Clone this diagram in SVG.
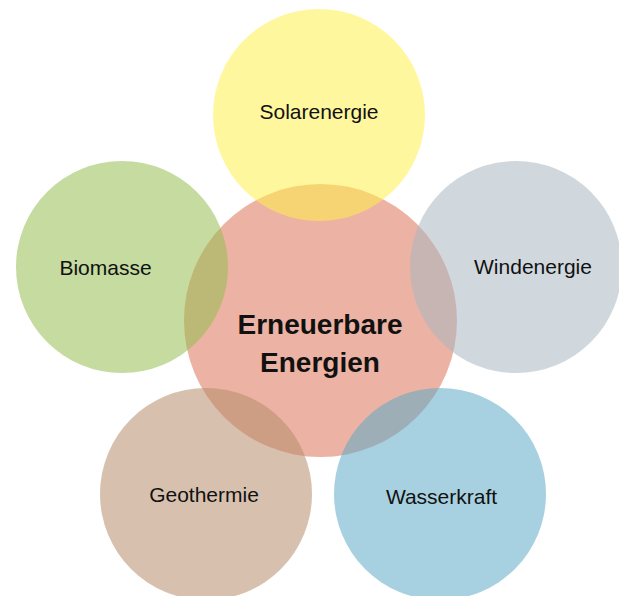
<svg xmlns="http://www.w3.org/2000/svg" width="619" height="596" viewBox="0 0 619 596">
  <style>
    .bg { fill: #ffffff; }
    .core { fill: #ecb2a3; }
    .petal { fill-opacity: 0.55; }
    .label { font-family: "Liberation Sans", "Noto Sans", sans-serif; font-size: 21px; fill: #111111; text-anchor: middle; }
    .title { font-family: "Liberation Sans", "Noto Sans", sans-serif; font-size: 28px; font-weight: bold; fill: #111111; text-anchor: middle; }
  </style>
  <rect class="bg" x="0" y="0" width="619" height="596"/>

  <!-- central topic -->
  <g id="erneuerbare-energien">
    <circle class="core" cx="320.5" cy="320.5" r="136.5"/>
  </g>

  <!-- surrounding sources, translucent so overlaps blend with the centre -->
  <g id="solarenergie">
    <circle class="petal" cx="319" cy="115" r="106" fill="#fff04f"/>
    <text class="label" x="319" y="119">Solarenergie</text>
  </g>
  <g id="windenergie">
    <circle class="petal" cx="516" cy="267" r="106" fill="#a9b8c3"/>
    <text class="label" x="533" y="274">Windenergie</text>
  </g>
  <g id="biomasse">
    <circle class="petal" cx="122" cy="267" r="106" fill="#95bd52"/>
    <text class="label" x="105.5" y="275">Biomasse</text>
  </g>
  <g id="geothermie">
    <circle class="petal" cx="206" cy="494" r="106" fill="#b78e6c"/>
    <text class="label" x="204" y="502">Geothermie</text>
  </g>
  <g id="wasserkraft">
    <circle class="petal" cx="440" cy="494" r="106" fill="#5fabc6"/>
    <text class="label" x="441.5" y="504">Wasserkraft</text>
  </g>

  <!-- title drawn last so it sits above every circle -->
  <g id="titel">
    <text class="title" x="320" y="334">Erneuerbare</text>
    <text class="title" x="320" y="372">Energien</text>
  </g>
</svg>
